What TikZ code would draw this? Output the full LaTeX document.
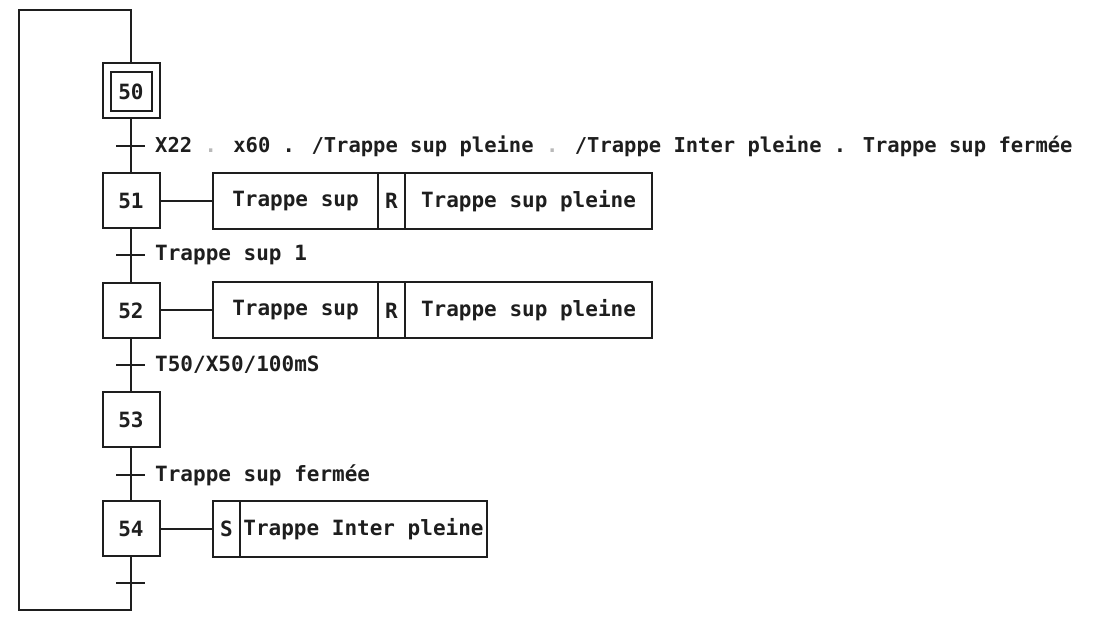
\documentclass[tikz,border=0pt]{standalone}
\usepackage{fontspec}
\newfontfamily\grafont{DejaVu Sans Mono}
\definecolor{ink}{HTML}{1E1E1E}
\begin{document}
\begin{tikzpicture}[x=1pt,y=-1pt,
  every node/.style={font=\grafont\bfseries\fontsize{21}{24}\selectfont, text=ink},
  stepbox/.style={draw=ink, line width=2pt, minimum width=57pt, minimum height=55pt, inner sep=0pt},
  cell/.style={draw=ink, line width=2pt, minimum height=56pt, inner sep=0pt},
  lbl/.style={anchor=west, inner sep=0pt},
  wire/.style={draw=ink, line width=2pt}]
\useasboundingbox (0,0) rectangle (1112,617);
% steps
\node[stepbox] (s50) at (131,90.5) {};
\node[stepbox, minimum width=41pt, minimum height=39pt] (s50in) at (131,91.5) {50};
\node[stepbox] (s51) at (131,201) {51};
\node[stepbox] (s52) at (131,310.5) {52};
\node[stepbox] (s53) at (131,419.5) {53};
\node[stepbox] (s54) at (131,529) {54};
% transitions
\coordinate (t1) at (131,146);
\coordinate (t2) at (131,255);
\coordinate (t3) at (131,365);
\coordinate (t4) at (131,475);
\coordinate (t5) at (131,583);
\coordinate (lb) at (131,610);
\coordinate (ll) at (19,610);
\coordinate (lt) at (19,10);
\coordinate (rt) at (131,10);
\draw[wire] (s50.south) -- (s51.north);
\draw[wire] (s51.south) -- (s52.north);
\draw[wire] (s52.south) -- (s53.north);
\draw[wire] (s53.south) -- (s54.north);
\draw[wire] (s54.south) -- (lb) -- (ll) -- (lt) -- (rt) -- (s50.north);
\foreach \t in {t1,t2,t3,t4,t5}
  \draw[wire] ([xshift=-15pt]\t) -- ([xshift=14pt]\t);
\node[lbl, font=\grafont\bfseries\fontsize{20.5}{24}\selectfont] (c1) at (155,146) {X22 {\color{gray!55}.} x60 . /Trappe sup pleine {\color{gray!55}.} /Trappe Inter pleine . Trappe sup fermée};
\node[lbl] (c2) at (155,255) {Trappe sup 1};
\node[lbl] (c3) at (155,365) {T50/X50/100mS};
\node[lbl] (c4) at (155,475) {Trappe sup fermée};
% actions 51
\node[cell, minimum width=165pt] (a51a) at (295.5,201) {Trappe sup};
\node[cell, minimum width=27pt] (a51b) at (391.5,201) {R};
\node[cell, minimum width=247pt] (a51c) at (528.5,201) {Trappe sup pleine};
\draw[wire] (s51.east) -- (a51a.west);
% actions 52
\node[cell, minimum width=165pt] (a52a) at (295.5,310.5) {Trappe sup};
\node[cell, minimum width=27pt] (a52b) at (391.5,310.5) {R};
\node[cell, minimum width=247pt] (a52c) at (528.5,310.5) {Trappe sup pleine};
\draw[wire] (s52.east) -- (a52a.west);
% actions 54
\node[cell, minimum width=27pt] (a54a) at (226.5,529) {S};
\node[cell, minimum width=247pt] (a54b) at (363.5,529) {Trappe Inter pleine};
\draw[wire] (s54.east) -- (a54a.west);
\end{tikzpicture}
\end{document}
